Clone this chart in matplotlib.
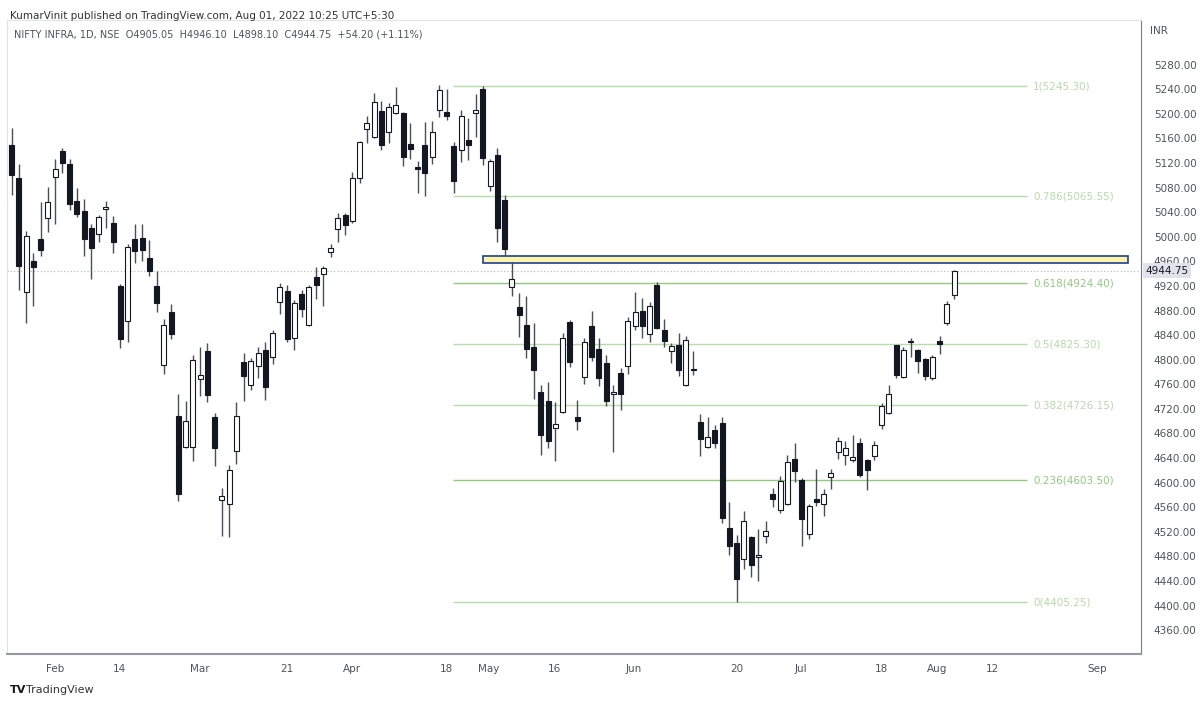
import numpy as np
import matplotlib.pyplot as plt
from matplotlib.patches import Rectangle

# daily OHLC (NIFTY INFRA, Jan 28 - Aug 01 2022)
opens = [5149, 5096, 4910, 4961, 4997, 5031, 5097, 5139, 5118, 5058,
         5042, 5014, 5004, 5045, 5022, 4920, 4863, 4996, 4998, 4966,
         4920, 4791, 4877, 4708, 4658, 4658, 4769, 4814, 4707, 4571,
         4565, 4652, 4797, 4759, 4790, 4816, 4804, 4894, 4912, 4836,
         4907, 4856, 4935, 4940, 4976, 5012, 5036, 5026, 5095, 5175,
         5163, 5205, 5171, 5202, 5202, 5151, 5114, 5149, 5129, 5206,
         5203, 5147, 5141, 5157, 5202, 5240, 5083, 5133, 5060, 4919,
         4886, 4856, 4821, 4747, 4733, 4689, 4715, 4862, 4706, 4772,
         4855, 4817, 4795, 4744, 4779, 4789, 4855, 4880, 4841, 4922,
         4848, 4814, 4824, 4759, 4785, 4698, 4658, 4686, 4697, 4526,
         4502, 4475, 4512, 4479, 4513, 4581, 4555, 4565, 4638, 4605,
         4517, 4573, 4565, 4609, 4649, 4645, 4637, 4664, 4637, 4644,
         4693, 4714, 4824, 4772, 4829, 4816, 4801, 4770, 4831, 4859, 4905.05]
highs = [5177, 5118, 5010, 4973, 5056, 5081, 5126, 5145, 5126, 5080,
         5061, 5020, 5035, 5059, 5033, 4923, 4989, 5021, 5021, 4995,
         4945, 4866, 4891, 4744, 4733, 4808, 4820, 4827, 4714, 4592,
         4629, 4731, 4811, 4802, 4820, 4829, 4848, 4925, 4921, 4897,
         4914, 4921, 4950, 4952, 4989, 5038, 5039, 5105, 5156, 5196,
         5234, 5221, 5218, 5243, 5203, 5185, 5123, 5187, 5188, 5247,
         5240, 5154, 5206, 5193, 5232, 5245, 5126, 5144, 5068, 4959,
         4908, 4904, 4859, 4758, 4763, 4731, 4844, 4865, 4734, 4836,
         4880, 4836, 4807, 4759, 4786, 4870, 4910, 4900, 4894, 4926,
         4867, 4827, 4843, 4839, 4814, 4711, 4707, 4693, 4707, 4568,
         4514, 4553, 4513, 4524, 4537, 4592, 4611, 4645, 4665, 4607,
         4566, 4622, 4589, 4622, 4675, 4667, 4677, 4673, 4639, 4667,
         4730, 4759, 4824, 4820, 4836, 4817, 4803, 4808, 4839, 4896, 4946.10]
lows = [5068, 4914, 4859, 4888, 4969, 5008, 5020, 5104, 5043, 5032,
        4968, 4932, 4992, 5014, 4973, 4819, 4828, 4958, 4961, 4936,
        4877, 4776, 4834, 4570, 4656, 4635, 4741, 4731, 4627, 4513,
        4511, 4630, 4733, 4750, 4770, 4734, 4793, 4875, 4829, 4816,
        4870, 4855, 4899, 4888, 4967, 4992, 5003, 5023, 5088, 5153,
        5161, 5141, 5153, 5199, 5115, 5126, 5071, 5067, 5119, 5195,
        5190, 5071, 5122, 5125, 5162, 5117, 5074, 4991, 4970, 4903,
        4837, 4802, 4736, 4645, 4657, 4635, 4713, 4788, 4686, 4761,
        4798, 4757, 4725, 4650, 4718, 4776, 4848, 4835, 4828, 4850,
        4821, 4794, 4774, 4757, 4775, 4643, 4657, 4657, 4535, 4483,
        4405, 4459, 4446, 4440, 4502, 4560, 4550, 4564, 4601, 4497,
        4509, 4562, 4546, 4589, 4639, 4628, 4633, 4609, 4588, 4637,
        4688, 4712, 4771, 4770, 4805, 4779, 4767, 4767, 4809, 4857, 4898.10]
closes = [5101, 4952, 5001, 4950, 4978, 5057, 5110, 5120, 5054, 5037,
          4996, 4982, 5032, 5049, 4991, 4833, 4983, 4977, 4979, 4944,
          4893, 4856, 4842, 4581, 4701, 4799, 4775, 4742, 4656, 4578,
          4621, 4708, 4774, 4798, 4811, 4755, 4844, 4918, 4834, 4893,
          4882, 4918, 4921, 4949, 4981, 5030, 5019, 5096, 5154, 5185,
          5220, 5150, 5211, 5215, 5130, 5142, 5111, 5103, 5170, 5239,
          5197, 5091, 5196, 5150, 5207, 5128, 5124, 5015, 4980, 4932,
          4872, 4818, 4783, 4677, 4668, 4696, 4836, 4797, 4700, 4829,
          4804, 4771, 4733, 4748, 4744, 4863, 4877, 4854, 4887, 4852,
          4831, 4822, 4784, 4832, 4783, 4671, 4675, 4664, 4543, 4497,
          4443, 4537, 4466, 4482, 4522, 4573, 4603, 4634, 4619, 4540,
          4562, 4568, 4581, 4615, 4668, 4657, 4642, 4612, 4620, 4661,
          4724, 4744, 4775, 4816, 4830, 4798, 4773, 4805, 4825, 4891, 4944.75]

fib_ratios = ['1', '0.786', '0.618', '0.5', '0.382', '0.236', '0']
fib_prices = [5245.30, 5065.55, 4924.40, 4825.30, 4726.15, 4603.50, 4405.25]
fib_colors = ['#b5dca9', '#b5dca9', '#8fcb7f', '#b5dca9', '#b5dca9', '#8fcb7f', '#b5dca9']
fib_start, fib_end = 60.9, 140.0

zone_low, zone_high = 4957.3, 4968.7
zone_start, zone_end = 65.0, 154.0

tick_pos = [6.0, 14.9, 26.0, 38.0, 46.9, 60.0, 65.8, 74.9, 85.8, 100.0,
            108.9, 120.0, 127.6, 135.3, 149.7]
tick_labels = ['Feb', '14', 'Mar', '21', 'Apr', '18', 'May', '16', 'Jun', '20',
               'Jul', '18', 'Aug', '12', 'Sep']

last_close = closes[-1]

fig = plt.figure(figsize=(12, 7.04), dpi=100)
ax = fig.add_axes([0.0058, 0.071, 0.9452, 0.9006])

x = np.arange(len(opens))
w = 0.7
for i in x:
    o, h, l, c = opens[i], highs[i], lows[i], closes[i]
    ax.vlines(i, l, h, color='#4a4e59', lw=1, zorder=2)
    up = c >= o
    face = 'white' if up else '#131722'
    bot = min(o, c)
    hgt = max(abs(c - o), 1.0)
    ax.add_patch(Rectangle((i - w / 2, bot), w, hgt, facecolor=face,
                           edgecolor='#131722', lw=0.8, zorder=3))

for r, p, col in zip(fib_ratios, fib_prices, fib_colors):
    ax.hlines(p, fib_start, fib_end, color=col, lw=1, zorder=1)
    ax.text(fib_end + 0.9, p, f'{r}({p:.2f})', color=col, fontsize=7.5,
            va='center', ha='left')

ax.add_patch(Rectangle((zone_start, zone_low), zone_end - zone_start,
                       zone_high - zone_low, facecolor='#fff3a8',
                       edgecolor='#1c3f94', lw=1.2, zorder=4))

ax.axhline(last_close, color='#b2b5be', lw=0.8, ls=(0, (1, 2)), zorder=1)

ax.set_xlim(-0.65, 155.8)
ax.set_ylim(4321.1, 5352.7)

ax.yaxis.tick_right()
ax.set_yticks(np.arange(4360, 5281, 40))
ax.set_yticklabels([f'{v:.2f}' for v in np.arange(4360, 5281, 40)])
ax.set_xticks(tick_pos)
ax.set_xticklabels(tick_labels)
ax.tick_params(axis='both', length=0, labelsize=7.5, labelcolor='#50535e')
ax.tick_params(axis='y', pad=9)
ax.tick_params(axis='x', pad=7)
for s in ['top', 'left']:
    ax.spines[s].set_color('#e0e3eb')
ax.spines['right'].set_color('#787b86')
ax.spines['bottom'].set_color('#9598a1')
ax.spines['bottom'].set_linewidth(1.5)

# last price tag on the price scale
ax.text(1.004, last_close, f'{last_close:.2f}', transform=ax.get_yaxis_transform(),
        fontsize=7.5, va='center', ha='left', color='#131722',
        bbox=dict(boxstyle='square,pad=0.25', facecolor='#e0e3eb', edgecolor='none'))
ax.text(1.008, 0.99, 'INR', transform=ax.transAxes, fontsize=7.5,
        va='top', ha='left', color='#50535e')

ax.text(0.006, 0.985, 'NIFTY INFRA, 1D, NSE  O4905.05  H4946.10  L4898.10  C4944.75  +54.20 (+1.11%)',
        transform=ax.transAxes, fontsize=7, va='top', ha='left', color='#50535e')

fig.text(0.008, 0.985, 'KumarVinit published on TradingView.com, Aug 01, 2022 10:25 UTC+5:30',
         fontsize=7.5, va='top', ha='left', color='#333333')
fig.text(0.008, 0.02, 'TV', fontsize=8, fontweight='bold', color='#131722', va='center')
fig.text(0.022, 0.02, 'TradingView', fontsize=8, color='#333333', va='center')

fig.savefig('out.png', dpi=100)
